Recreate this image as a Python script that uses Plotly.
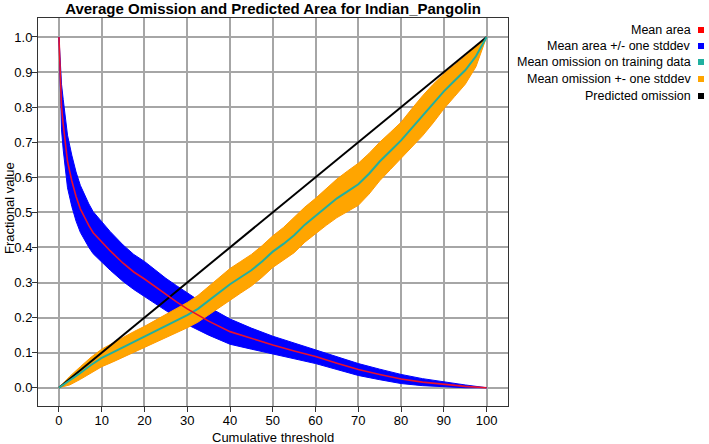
import plotly.graph_objects as go

# ---------------- data ----------------
area_x = [0, 0.3, 0.6, 1, 1.5, 2, 3, 4, 5, 6, 7, 8, 10, 12, 15, 17.5, 20, 22.5, 25, 27.5,
          30, 35, 40, 45, 50, 55, 60, 65, 70, 75, 80, 85, 90, 95, 100]
area_mean = [1.0, 0.87, 0.80, 0.75, 0.695, 0.645, 0.59, 0.545, 0.51, 0.485, 0.462, 0.442, 0.415,
             0.39, 0.355, 0.33, 0.31, 0.288, 0.265, 0.245, 0.225, 0.19, 0.16, 0.14, 0.122,
             0.105, 0.089, 0.07, 0.052, 0.038, 0.025, 0.016, 0.009, 0.004, 0.0]
area_sd = [0.0, 0.05, 0.065, 0.072, 0.075, 0.075, 0.073, 0.07, 0.067, 0.065, 0.062, 0.06, 0.057,
           0.055, 0.052, 0.05, 0.05, 0.048, 0.047, 0.046, 0.045, 0.04, 0.036, 0.03, 0.025,
           0.022, 0.02, 0.018, 0.017, 0.015, 0.013, 0.01, 0.007, 0.004, 0.0]

om_x = [0, 2.5, 5, 7.5, 10, 12.5, 15, 17.5, 20, 22.5, 25, 27.5, 30, 32.5, 35, 37.5, 40, 42.5,
        45, 47.5, 50, 52.5, 55, 57.5, 60, 62.5, 65, 67.5, 70, 72.5, 75, 77.5, 80, 82.5, 85,
        87.5, 90, 92.5, 95, 97.5, 100]
om_mean = [0.0, 0.02, 0.042, 0.065, 0.085, 0.10, 0.115, 0.13, 0.145, 0.16, 0.175, 0.19, 0.207,
           0.225, 0.248, 0.272, 0.295, 0.315, 0.335, 0.36, 0.388, 0.41, 0.435, 0.465, 0.49,
           0.515, 0.54, 0.56, 0.58, 0.61, 0.645, 0.675, 0.705, 0.74, 0.775, 0.81, 0.845,
           0.875, 0.905, 0.945, 1.0]
om_sd = [0.0, 0.012, 0.018, 0.022, 0.025, 0.027, 0.028, 0.03, 0.03, 0.032, 0.033, 0.035, 0.036,
         0.038, 0.04, 0.042, 0.045, 0.045, 0.045, 0.045, 0.045, 0.047, 0.05, 0.05, 0.05,
         0.052, 0.055, 0.058, 0.06, 0.058, 0.055, 0.053, 0.052, 0.055, 0.057, 0.055, 0.05,
         0.045, 0.04, 0.03, 0.0]

pred_x = [0, 100]
pred_y = [0.0, 1.0]

legend_labels = ["Mean area", "Mean area +/- one stddev", "Mean omission on training data",
                 "Mean omission +- one stddev", "Predicted omission"]
legend_colors = ["#ff0000", "#0000ff", "#20b0a0", "#ffa500", "#000000"]

x_ticks = list(range(0, 101, 10))
y_ticks = [i / 10 for i in range(11)]

RED, BLUE, TEAL, ORANGE, BLACK = legend_colors

area_hi = [m + s for m, s in zip(area_mean, area_sd)]
area_lo = [m - s for m, s in zip(area_mean, area_sd)]
om_hi = [m + s for m, s in zip(om_mean, om_sd)]
om_lo = [m - s for m, s in zip(om_mean, om_sd)]

fig = go.Figure()
# area band
fig.add_trace(go.Scatter(x=area_x, y=area_lo, mode="lines", line=dict(width=1, color=BLUE),
                         showlegend=False, hoverinfo="skip"))
fig.add_trace(go.Scatter(x=area_x, y=area_hi, mode="lines", line=dict(width=1, color=BLUE),
                         fill="tonexty", fillcolor=BLUE, showlegend=False))
# omission band
fig.add_trace(go.Scatter(x=om_x, y=om_lo, mode="lines", line=dict(width=1, color="#ff9a00"),
                         showlegend=False, hoverinfo="skip"))
fig.add_trace(go.Scatter(x=om_x, y=om_hi, mode="lines", line=dict(width=1, color="#ff9a00"),
                         fill="tonexty", fillcolor=ORANGE, showlegend=False))
# predicted omission
fig.add_trace(go.Scatter(x=pred_x, y=pred_y, mode="lines", line=dict(width=2, color=BLACK),
                         showlegend=False))
# mean omission
fig.add_trace(go.Scatter(x=om_x, y=om_mean, mode="lines", line=dict(width=2, color=TEAL),
                         showlegend=False))
# mean area
fig.add_trace(go.Scatter(x=area_x, y=area_mean, mode="lines", line=dict(width=1.6, color="#e8102e"),
                         showlegend=False))

FONT = "Liberation Sans, Arial, sans-serif"
W, H = 709, 444
L, R, T, B = 38, 201, 18, 38
pw, ph = W - L - R, H - T - B


def px2paper(px, py):
    return (px - L) / pw, (H - B - py) / ph


annotations = []
shapes = []
leg_y = [30, 46, 62, 79, 96]
for lab, col, py in zip(legend_labels, legend_colors, leg_y):
    xa, ya = px2paper(693, py)
    annotations.append(dict(x=xa, y=ya, xref="paper", yref="paper", text=lab, showarrow=False,
                            xanchor="right", yanchor="middle", font=dict(size=12.5, color="#000", family=FONT)))
    x0, y0 = px2paper(698, py + 3)
    x1, y1 = px2paper(704, py - 3)
    shapes.append(dict(type="rect", xref="paper", yref="paper", x0=x0, x1=x1, y0=y0, y1=y1,
                       fillcolor=col, line=dict(width=0)))

xa, ya = px2paper(273, 437)
annotations.append(dict(x=xa, y=ya, xref="paper", yref="paper", text="Cumulative threshold",
                        showarrow=False, xanchor="center", yanchor="middle",
                        font=dict(size=13, color="#000", family=FONT)))
xa, ya = px2paper(9, 208)
annotations.append(dict(x=xa, y=ya, xref="paper", yref="paper", text="Fractional value",
                        showarrow=False, xanchor="center", yanchor="middle", textangle=-90,
                        font=dict(size=13, color="#000", family=FONT)))

axis_common = dict(showgrid=True, gridcolor="#a6a6a6", gridwidth=1.5, showline=True,
                   linecolor="#333333", linewidth=1, mirror=True, ticks="outside", ticklen=5,
                   tickcolor="#333333", zeroline=False, automargin=False,
                   tickfont=dict(size=13, color="#000", family=FONT))

fig.update_layout(
    width=W, height=H,
    margin=dict(l=L, r=R, t=T, b=B, autoexpand=False),
    paper_bgcolor="white", plot_bgcolor="white",
    title=dict(text="<b>Average Omission and Predicted Area for Indian_Pangolin</b>",
               x=0.5, xref="paper", xanchor="center", y=1 - 9 / H, yref="container",
               yanchor="middle", font=dict(size=15, color="#000", family=FONT)),
    xaxis=dict(range=[-4.9, 105], tickvals=x_ticks, ticktext=[str(v) for v in x_ticks],
               ticklabelstandoff=-3, **axis_common),
    yaxis=dict(range=[-0.052, 1.054], tickvals=y_ticks, ticktext=[f"{v:.1f}" for v in y_ticks],
               ticklabelstandoff=-3, **axis_common),
    annotations=annotations, shapes=shapes, showlegend=False,
)

fig.write_html("out.html")
